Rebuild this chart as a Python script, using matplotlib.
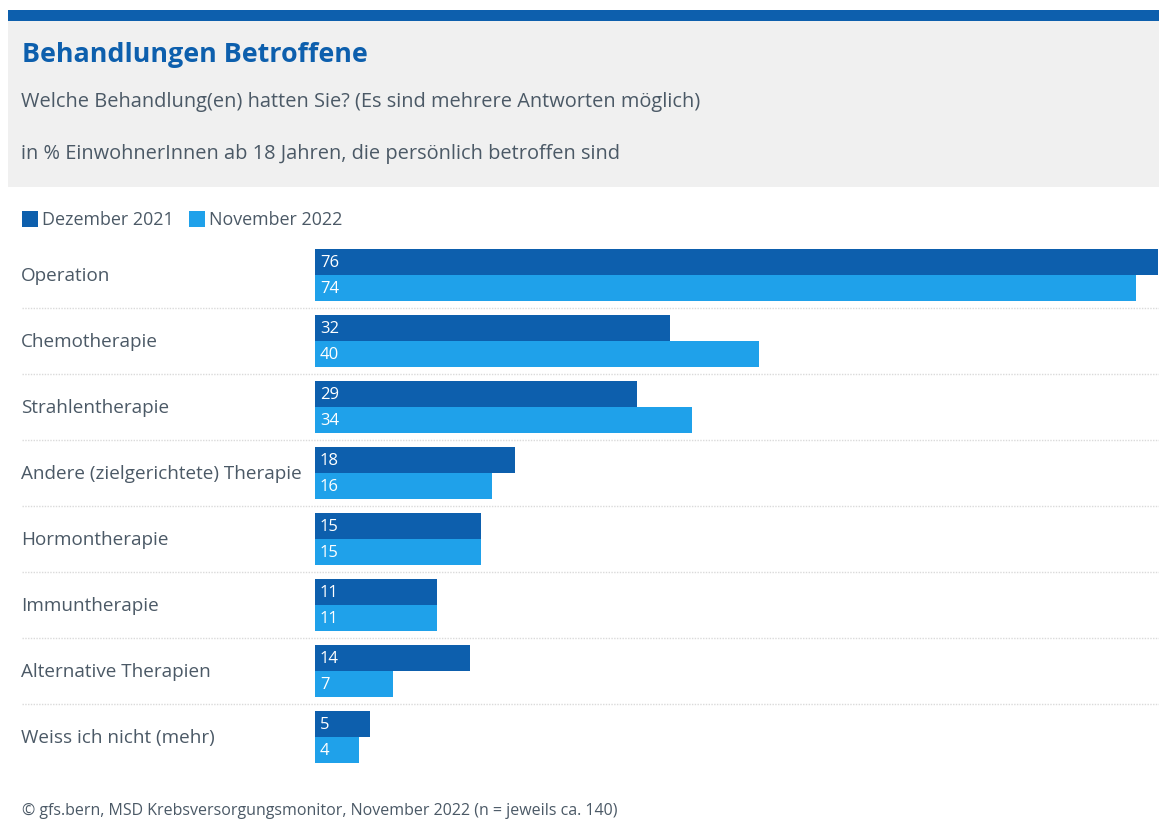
import matplotlib
matplotlib.use('Agg')
import matplotlib.pyplot as plt
from matplotlib.patches import Rectangle
from matplotlib.lines import Line2D
import matplotlib.transforms as mtransforms

# Survey results, share in percent
categories = [
    'Operation',
    'Chemotherapie',
    'Strahlentherapie',
    'Andere (zielgerichtete) Therapie',
    'Hormontherapie',
    'Immuntherapie',
    'Alternative Therapien',
    'Weiss ich nicht (mehr)',
]
dez_2021 = [76, 32, 29, 18, 15, 11, 14, 5]
nov_2022 = [74, 40, 34, 16, 15, 11, 7, 4]
series_labels = ['Dezember 2021', 'November 2022']

title = 'Behandlungen Betroffene'
subtitle = 'Welche Behandlung(en) hatten Sie? (Es sind mehrere Antworten möglich)'
unit_note = 'in % EinwohnerInnen ab 18 Jahren, die persönlich betroffen sind'
source = '© gfs.bern, MSD Krebsversorgungsmonitor, November 2022 (n = jeweils ca. 140)'

DARK = '#0d5fad'
LIGHT = '#1fa1ea'
TEXT = '#4b5966'
FONT = 'Open Sans'

W, H = 1159, 835
fig = plt.figure(figsize=(W / 100, H / 100), dpi=100)
fig.patch.set_facecolor('white')


def fx(px):
    return px / W


def fy(py):
    return 1 - py / H


# Header box
fig.add_artist(Rectangle((fx(8), fy(187)), fx(1151), (166) / H,
                         transform=fig.transFigure, facecolor='#f0f0f0',
                         edgecolor='none'))
fig.add_artist(Rectangle((fx(8), fy(21)), fx(1151), 11 / H,
                         transform=fig.transFigure, facecolor=DARK,
                         edgecolor='none'))

fig.text(fx(22), fy(55), title, fontsize=19.4, fontweight='bold', color=DARK,
         family=FONT, va='center', ha='left')
fig.text(fx(21), fy(102), subtitle, fontsize=14.4, color=TEXT,
         family=FONT, va='center', ha='left')
fig.text(fx(21), fy(154), unit_note, fontsize=14.4, color=TEXT,
         family=FONT, va='center', ha='left')

# Legend
for i, (lbl, col, x0) in enumerate(zip(series_labels, [DARK, LIGHT], [22, 189])):
    fig.add_artist(Rectangle((fx(x0), fy(227)), fx(16), 16 / H,
                             transform=fig.transFigure, facecolor=col,
                             edgecolor='none'))
    fig.text(fx(x0 + 20), fy(220), lbl, fontsize=12.9, color=TEXT,
             family=FONT, va='center', ha='left')

# Bar area
ax_left, ax_right = 315, 1158
ax_top, ax_bottom = 242, 770
ax = fig.add_axes([fx(ax_left), fy(ax_bottom), fx(ax_right - ax_left),
                   (ax_bottom - ax_top) / H])
ax.set_xlim(0, max(dez_2021))
n = len(categories)
ax.set_ylim(n - 0.5, -0.5)
ax.axis('off')

bar_h = 26 / 66
ys = list(range(n))
ax.barh([y - bar_h / 2 for y in ys], dez_2021, height=bar_h, color=DARK,
        align='center', edgecolor='none')
ax.barh([y + bar_h / 2 for y in ys], nov_2022, height=bar_h, color=LIGHT,
        align='center', edgecolor='none')

offset = mtransforms.offset_copy(ax.transData, fig=fig, x=5, y=-1, units='dots')
for y, a, b in zip(ys, dez_2021, nov_2022):
    ax.text(0, y - bar_h / 2, str(a), transform=offset, color='white',
            fontsize=12, family=FONT, va='center', ha='left')
    ax.text(0, y + bar_h / 2, str(b), transform=offset, color='white',
            fontsize=12, family=FONT, va='center', ha='left')

# Category labels and dotted separators spanning the full width
blend = mtransforms.blended_transform_factory(fig.transFigure, ax.transData)
label_offset = mtransforms.offset_copy(blend, fig=fig, x=0, y=-1, units='dots')
for y, cat in zip(ys, categories):
    fig.text(fx(21), 0, cat, transform=label_offset, fontsize=13.6, color=TEXT,
             family=FONT, va='center', ha='left').set_y(y)
    if y < n - 1:
        fig.add_artist(Line2D([fx(22), 1], [y + 0.5, y + 0.5], transform=blend,
                              color='#dadada', lw=1, linestyle=(0, (1, 1))))

fig.text(fx(22), fy(811), source, fontsize=11.5, color=TEXT, family=FONT,
         va='center', ha='left')

fig.savefig('out.png', dpi=100, facecolor='white')
